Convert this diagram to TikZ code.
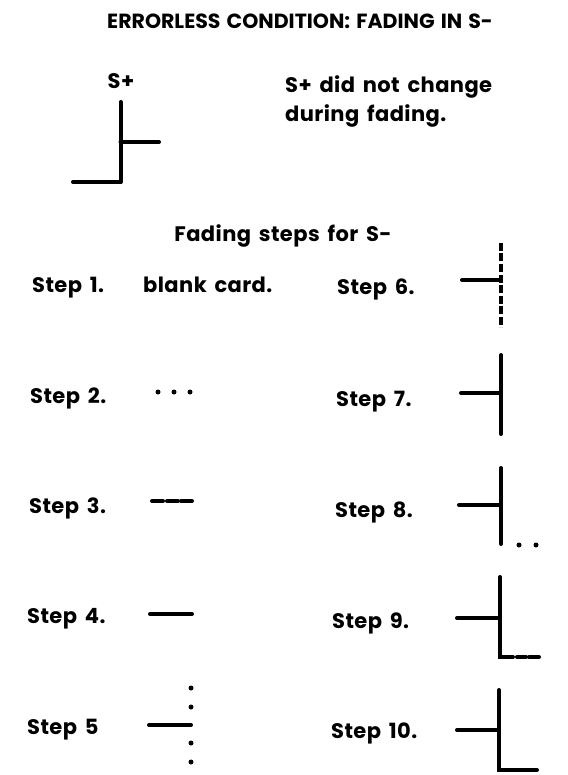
\documentclass[tikz,border=0pt]{standalone}
\usepackage{fontspec}
\setmainfont{Poppins}[WordSpace=1.6, LetterSpace=2]
\newfontfamily\headfont{Poppins}[WordSpace=1.4]
\begin{document}
\begin{tikzpicture}[x=1pt,y=-1pt,
  txt/.style={font=\fontsize{21}{26}\selectfont\bfseries, inner sep=0pt},
  bar/.style={line width=4pt, line cap=round},
  dotmark/.style={fill=black}]
\useasboundingbox (0,0) rectangle (567,775);

% headings
\node[txt, font=\headfont\fontsize{20.5}{24}\selectfont\bfseries, anchor=base] (title) at (300,29) {ERRORLESS CONDITION: FADING IN S-};
\node[txt, anchor=base] (splus) at (121,89) {S+};
\node[txt, anchor=base west] (note1) at (285,93) {S+ did not change};
\node[txt, anchor=base west] (note2) at (285,122) {during fading.};
\node[txt, anchor=base] (fhead) at (283,242) {Fading steps for S-};

% S+ stimulus
\draw[bar] (120.5,102) -- (120.5,182);
\draw[bar] (120.5,142) -- (159,142);
\draw[bar] (73,182) -- (120.5,182);

% left column labels
\node[txt, anchor=base west] (s1) at (32,292) {Step 1.};
\node[txt, anchor=base west] (s2) at (30,403) {Step 2.};
\node[txt, anchor=base west] (s3) at (29,513) {Step 3.};
\node[txt, anchor=base west] (s4) at (27,623) {Step 4.};
\node[txt, anchor=base west] (s5) at (27,734) {Step 5};
\node[txt, anchor=base west] (blank) at (143,292) {blank card.};

% right column labels
\node[txt, anchor=base west] (s6) at (337,294) {Step 6.};
\node[txt, anchor=base west] (s7) at (336,406) {Step 7.};
\node[txt, anchor=base west] (s8) at (335,517) {Step 8.};
\node[txt, anchor=base west] (s9) at (332,628) {Step 9.};
\node[txt, anchor=base west] (s10) at (331,738) {Step 10.};

% step 2: three dots
\foreach \x in {158,174,190} \fill[dotmark] (\x,392) circle (2.5pt);
% step 3: three dashes
\foreach \a/\b in {152/163,167/178,181/192} \draw[bar] (\a,501) -- (\b,501);
% step 4: full bar
\draw[bar] (150,614) -- (192,614);
% step 5: bar with dotted vertical
\draw[bar] (149,725) -- (191,725);
\foreach \y in {688,707,743,762} \fill[dotmark] (191,\y) circle (2.5pt);

% step 6: dashed vertical
\draw[bar] (462,280) -- (501,280);
\draw[line width=4.5pt, dash pattern=on 8pt off 2.5pt] (501,243) -- (501,327);
% step 7: solid vertical
\draw[bar] (501,355) -- (501,434);
\draw[bar] (461,393) -- (501,393);
% step 8: two dots at the foot
\draw[bar] (501,468) -- (501,544);
\draw[bar] (459,505) -- (501,505);
\fill[dotmark] (519,545) circle (2.5pt);
\fill[dotmark] (536,545) circle (2.5pt);
% step 9: dashed foot
\draw[bar] (500,577) -- (500,657) -- (513,657);
\draw[bar] (457,618) -- (500,618);
\draw[bar] (517,657) -- (526,657);
\draw[bar] (529,657) -- (539,657);
% step 10: full foot
\draw[bar] (499,690) -- (499,770) -- (537,770);
\draw[bar] (457,730) -- (499,730);
\end{tikzpicture}
\end{document}
